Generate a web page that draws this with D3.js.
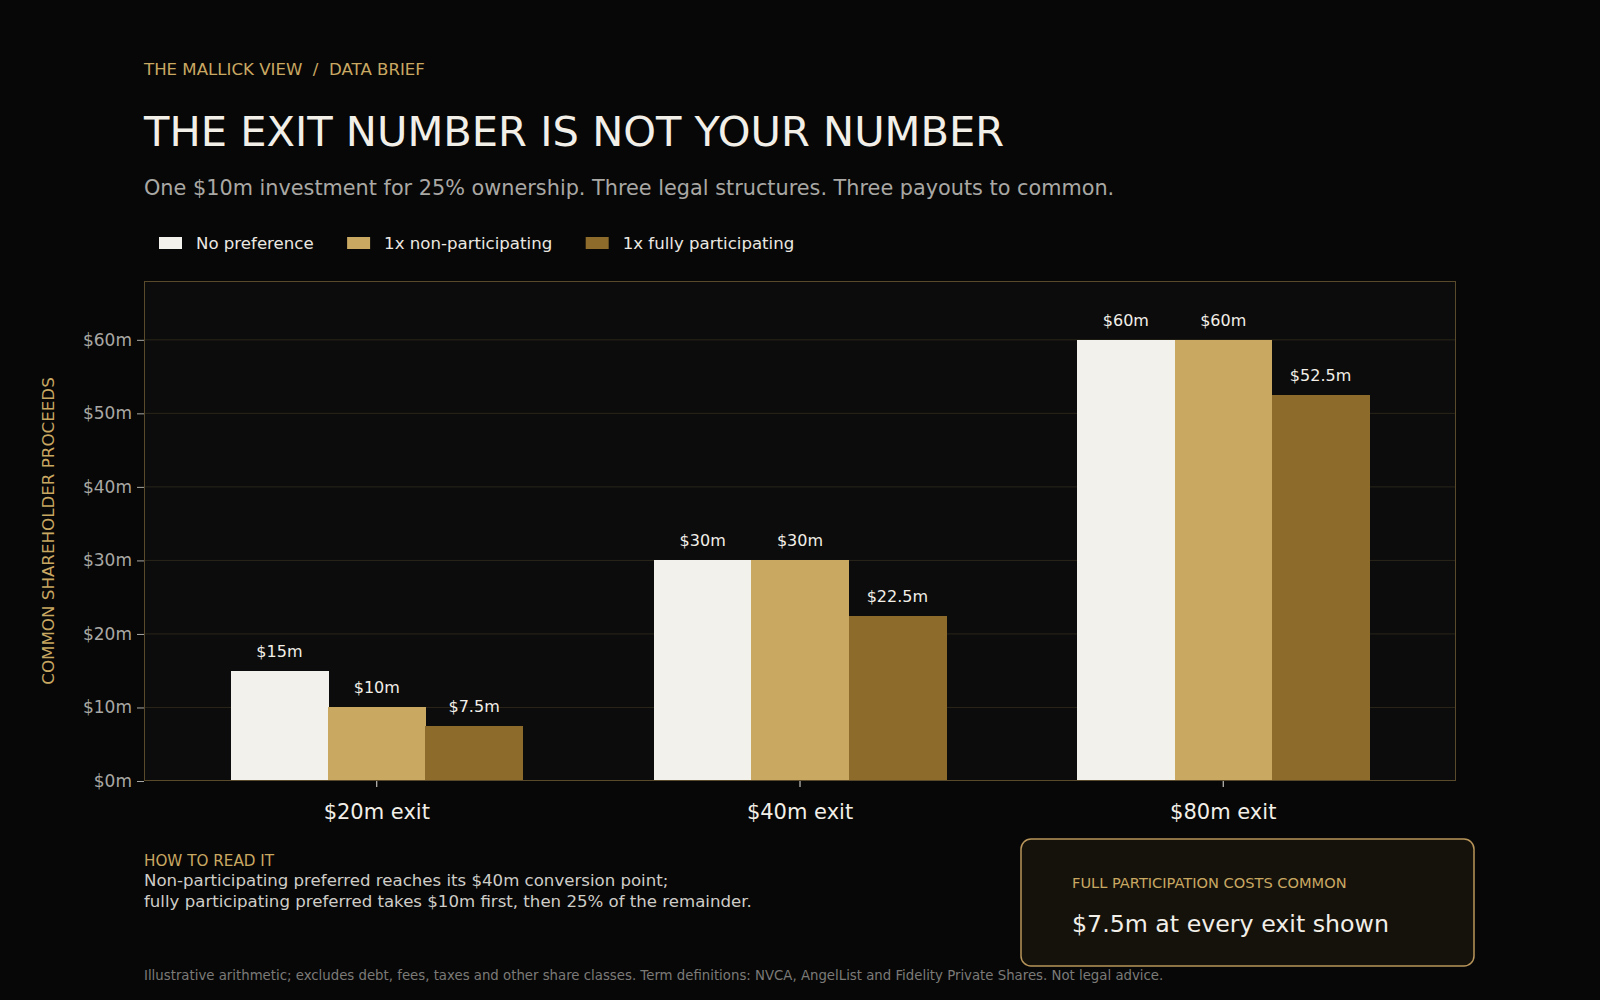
<!DOCTYPE html>
<html>
<head>
<meta charset="utf-8">
<script src="https://cdn.jsdelivr.net/npm/d3@7"></script>
<style>
  html, body { margin: 0; padding: 0; background: #070707; }
  svg { display: block; font-family: "DejaVu Sans", sans-serif; }
</style>
</head>
<body>
<div class="chart"></div>
<script>
// data
const exits = ["$20m exit", "$40m exit", "$80m exit"];
const structures = ["No preference", "1x non-participating", "1x fully participating"];
const noPreference = [15, 30, 60];
const nonParticipating = [10, 30, 60];
const fullyParticipating = [7.5, 22.5, 52.5];
const yTicks = [0, 10, 20, 30, 40, 50, 60];
const seriesColors = ["#f2f1ec", "#c9a862", "#8c6b2b"];

const series = [noPreference, nonParticipating, fullyParticipating];
const rows = [];
exits.forEach((e, i) => structures.forEach((s, j) => rows.push({exit: e, structure: s, val: series[j][i]})));

const svg_width = 1600, svg_height = 1000;
const plot = {left: 144, right: 1456, top: 281, bottom: 781};

const svg = d3.select(".chart").append("svg")
  .attr("width", svg_width).attr("height", svg_height);
svg.append("rect").attr("width", svg_width).attr("height", svg_height).attr("fill", "#070707");

// header
svg.append("text").attr("x", 144).attr("y", 75)
  .style("white-space", "pre").attr("xml:space", "preserve")
  .attr("fill", "#c9a862").attr("font-size", 16.6)
  .text("THE MALLICK VIEW  /  DATA BRIEF");
svg.append("text").attr("x", 144).attr("y", 146)
  .attr("fill", "#f2efe8").attr("font-size", 41.6)
  .text("THE EXIT NUMBER IS NOT YOUR NUMBER");
svg.append("text").attr("x", 144).attr("y", 195)
  .attr("fill", "#a9a8a4").attr("font-size", 20.8)
  .text("One $10m investment for 25% ownership. Three legal structures. Three payouts to common.");

// legend
const legend = svg.append("g").attr("class", "legend");
let lx = 159;
structures.forEach((s, j) => {
  legend.append("rect").attr("x", lx).attr("y", 237).attr("width", 23).attr("height", 12)
    .attr("fill", seriesColors[j]);
  const t = legend.append("text").attr("x", lx + 37).attr("y", 249)
    .attr("fill", "#ebe8e1").attr("font-size", 16.6).text(s);
  lx += 37 + t.node().getComputedTextLength() + 33.5;
});

// scales
const yScale = d3.scaleLinear([0, 68], [plot.bottom, plot.top]);
const xScale = d3.scaleBand().domain(exits).range([plot.left, plot.right])
  .paddingInner(0.31).paddingOuter(0.205);
const subScale = d3.scaleBand().domain(structures).range([0, xScale.bandwidth()]);
const color = d3.scaleOrdinal(structures, seriesColors);

// plot background
svg.append("rect").attr("x", plot.left).attr("y", plot.top)
  .attr("width", plot.right - plot.left).attr("height", plot.bottom - plot.top)
  .attr("fill", "#0c0c0c");

// grid
svg.append("g").selectAll("line").data(yTicks.filter(d => d > 0)).enter().append("line")
  .attr("x1", plot.left).attr("x2", plot.right)
  .attr("y1", d => yScale(d)).attr("y2", d => yScale(d))
  .attr("stroke", "#2b261b").attr("stroke-width", 1);

// bars
svg.append("g").attr("shape-rendering", "crispEdges")
  .selectAll(".bar").data(rows).enter().append("rect")
  .attr("class", "bar")
  .attr("x", d => xScale(d.exit) + subScale(d.structure))
  .attr("y", d => yScale(d.val))
  .attr("width", subScale.bandwidth() + 0.5)
  .attr("height", d => yScale(0) - yScale(d.val))
  .attr("fill", d => color(d.structure));

// value labels
svg.append("g").selectAll("text").data(rows).enter().append("text")
  .attr("x", d => xScale(d.exit) + subScale(d.structure) + subScale.bandwidth() / 2)
  .attr("y", d => yScale(d.val) - 14)
  .attr("text-anchor", "middle").attr("fill", "#f2efe8").attr("font-size", 16)
  .text(d => `$${d.val}m`);

// frame
svg.append("rect").attr("x", plot.left + 0.5).attr("y", plot.top + 0.5)
  .attr("width", plot.right - plot.left - 1).attr("height", plot.bottom - plot.top - 1)
  .attr("fill", "none").attr("stroke", "#5a4a2c").attr("stroke-width", 1);

// axes
const yAxis = d3.axisLeft(yScale).tickValues(yTicks).tickSize(7).tickPadding(5)
  .tickFormat(d => `$${d}m`);
const yAxisDraw = svg.append("g").attr("transform", `translate(${plot.left},0)`).call(yAxis);
yAxisDraw.select(".domain").remove();
yAxisDraw.selectAll("line").attr("stroke", "#a9a8a4");
yAxisDraw.selectAll("text").attr("fill", "#a9a8a4").attr("font-size", 17)
  .attr("font-family", "DejaVu Sans");

const xAxis = d3.axisBottom(xScale).tickSize(6).tickPadding(17);
const xAxisDraw = svg.append("g").attr("transform", `translate(0,${plot.bottom})`).call(xAxis);
xAxisDraw.select(".domain").remove();
xAxisDraw.selectAll("line").attr("stroke", "#e8e5de");
xAxisDraw.selectAll("text").attr("fill", "#f2efe8").attr("font-size", 21)
  .attr("font-family", "DejaVu Sans");

svg.append("text")
  .attr("transform", `translate(54,${(plot.top + plot.bottom) / 2}) rotate(-90)`)
  .attr("text-anchor", "middle").attr("fill", "#c9a862").attr("font-size", 16.7)
  .text("COMMON SHAREHOLDER PROCEEDS");

// notes
svg.append("text").attr("x", 144).attr("y", 866).attr("fill", "#c9a862").attr("font-size", 15.2)
  .text("HOW TO READ IT");
svg.append("text").attr("x", 144).attr("y", 886).attr("fill", "#cfcdc8").attr("font-size", 16.6)
  .text("Non-participating preferred reaches its $40m conversion point;");
svg.append("text").attr("x", 144).attr("y", 907).attr("fill", "#cfcdc8").attr("font-size", 16.6)
  .text("fully participating preferred takes $10m first, then 25% of the remainder.");

// callout
svg.append("rect").attr("x", 1021).attr("y", 839).attr("width", 453).attr("height", 127)
  .attr("rx", 10).attr("fill", "#15120c").attr("stroke", "#b8955a").attr("stroke-width", 1.5);
svg.append("text").attr("x", 1072).attr("y", 888).attr("fill", "#c9a862").attr("font-size", 14.6)
  .text("FULL PARTICIPATION COSTS COMMON");
svg.append("text").attr("x", 1072).attr("y", 932).attr("fill", "#f2efe8").attr("font-size", 23.7)
  .text("$7.5m at every exit shown");

svg.append("text").attr("x", 144).attr("y", 980).attr("fill", "#7b7a77").attr("font-size", 13.3)
  .text("Illustrative arithmetic; excludes debt, fees, taxes and other share classes. Term definitions: NVCA, AngelList and Fidelity Private Shares. Not legal advice.");
</script>
</body>
</html>
